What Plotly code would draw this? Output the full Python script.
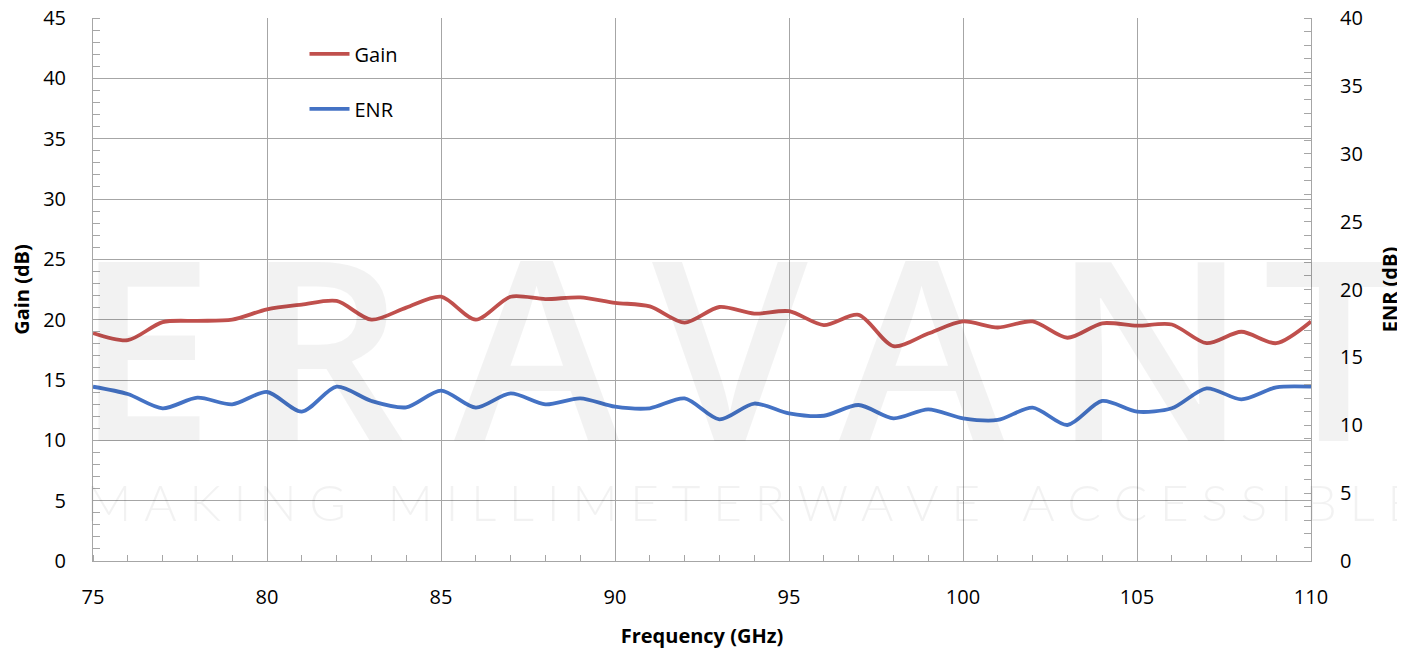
import plotly.graph_objects as go

freq = list(range(75, 111))
gain = [18.9, 18.3, 19.8, 19.9, 20.0, 20.85, 21.25, 21.55, 20.0, 21.0, 21.9, 20.0,
        21.9, 21.7, 21.85, 21.4, 21.1, 19.75, 21.05, 20.5, 20.7, 19.55, 20.4, 17.8,
        18.85, 19.85, 19.35, 19.85, 18.5, 19.7, 19.5, 19.6, 18.05, 19.0, 18.05, 19.85]
enr = [12.84, 12.3, 11.25, 12.03, 11.54, 12.45, 11.0, 12.84, 11.79, 11.32, 12.55, 11.3,
       12.35, 11.54, 11.98, 11.37, 11.25, 11.98, 10.44, 11.6, 10.88, 10.7, 11.49, 10.51,
       11.17, 10.51, 10.39, 11.3, 10.02, 11.79, 11.0, 11.25, 12.72, 11.91, 12.79, 12.84]

gain_ticks = list(range(0, 46, 5))
enr_ticks = list(range(0, 41, 5))
freq_ticks = list(range(75, 111, 5))

font_family = "Open Sans"
grid_col = "#a6a6a6"

fig = go.Figure()
fig.add_trace(go.Scatter(x=freq, y=gain, name="Gain", mode="lines",
                         line=dict(color="#c0504d", width=3.8, shape="spline", smoothing=0.8),
                         legendgroup="g", yaxis="y"))
fig.add_trace(go.Scatter(x=freq, y=enr, name="ENR", mode="lines",
                         line=dict(color="#4472c4", width=3.8, shape="spline", smoothing=0.8),
                         legendgroup="e", yaxis="y2"))

# page body has an 8px margin; plot area targeted at x 93..1311, y 18..561 (absolute)
OFF = 8
L, T = 93 - OFF, 18 - OFF
pw, ph = 1218, 543
W, H = 1405 - OFF, 649 - OFF
R = W - L - pw
B = H - T - ph


def px(xabs):
    return (xabs - 93) / pw


def py(yabs):
    return (561 - yabs) / ph


wm = "rgba(0,0,0,0.05)"
annotations = []
for ch, xpx in [("E", 145), ("R", 325), ("A", 537), ("V", 730), ("A", 922), ("N", 1150), ("T", 1333)]:
    annotations.append(dict(text=ch, x=px(xpx), y=py(344), xref="paper", yref="paper",
                            showarrow=False, font=dict(family="Open Sans", size=250, color=wm, weight=600),
                            xanchor="center", yanchor="middle"))
tag = "MAKING MILLIMETERWAVE ACCESSIBLE"
spaced = "\u2005".join("\u2004" if c == " " else c for c in tag)
annotations.append(dict(text=spaced, x=px(84), y=py(502), xref="paper", yref="paper",
                        showarrow=False, xanchor="left", yanchor="middle",
                        font=dict(family="Lato", size=50, color=wm, weight=300)))

fig.update_layout(
    width=W, height=H,
    margin=dict(l=L, r=R, t=T, b=B, autoexpand=False),
    paper_bgcolor="white", plot_bgcolor="white",
    font=dict(family=font_family, size=20, color="black"),
    showlegend=True,
    legend=dict(x=px(304.5), y=0.9698, xanchor="left", yanchor="top", bgcolor="rgba(0,0,0,0)",
                tracegroupgap=26, font=dict(size=20), itemwidth=40),
    annotations=annotations,
    xaxis=dict(range=[75, 110], tickvals=freq_ticks, showgrid=True, gridcolor=grid_col, gridwidth=1,
               showline=True, linecolor=grid_col, linewidth=1, mirror=False, zeroline=False,
               ticks="", ticklabelstandoff=18, automargin=False, ticklabeloverflow="allow",
               minor=dict(ticks="inside", dtick=1, ticklen=6, tickcolor=grid_col, showgrid=False),
               title=dict(text="<b>Frequency (GHz)</b>", font=dict(size=20), standoff=22)),
    yaxis=dict(range=[0, 45], tickvals=gain_ticks, showgrid=True, gridcolor=grid_col, gridwidth=1,
               showline=True, linecolor=grid_col, linewidth=1, zeroline=False,
               ticks="", ticklabelstandoff=22, automargin=False, ticklabeloverflow="allow",
               minor=dict(ticks="inside", dtick=1, ticklen=7, tickcolor=grid_col, showgrid=False),
               title=dict(text="<b>Gain (dB)</b>", font=dict(size=20), standoff=22)),
    yaxis2=dict(range=[0, 40], tickvals=enr_ticks, overlaying="y", side="right", showgrid=False,
                showline=True, linecolor=grid_col, linewidth=1, zeroline=False,
                ticks="", ticklabelstandoff=24, automargin=False, ticklabeloverflow="allow",
                minor=dict(ticks="inside", dtick=1, ticklen=7, tickcolor=grid_col, showgrid=False),
                title=dict(text="<b>ENR (dB)</b>", font=dict(size=20), standoff=21)),
)

fig.write_html("out.html")
